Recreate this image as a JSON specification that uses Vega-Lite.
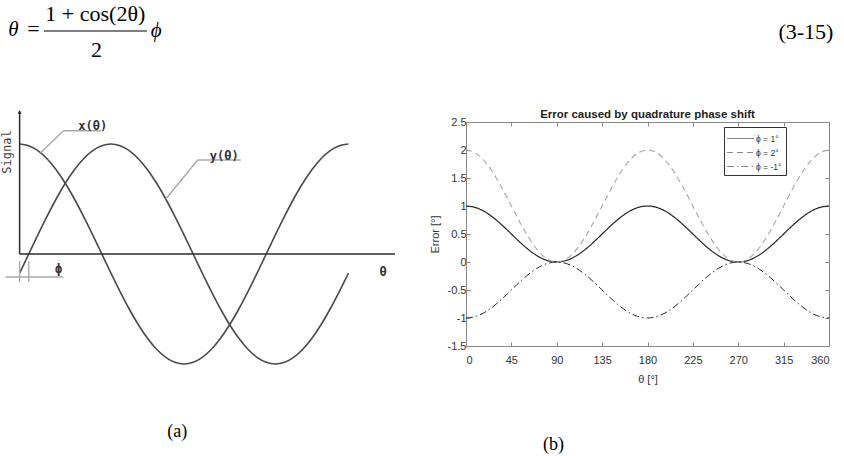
{
  "$schema": "https://vega.github.io/schema/vega-lite/v6.json",
  "padding": 0,
  "spacing": 0,
  "background": "white",
  "config": {"view": {"stroke": null}},
  "vconcat": [
    {
      "width": 844,
      "height": 108,
      "layer": [
        {
          "data": {"values": [
            {"x": 3.36, "y": 36, "s": "="},
            {"x": 10.7, "y": 21, "s": "1 + cos(2θ)"},
            {"x": 10.84, "y": 57, "s": "2"}
          ]},
          "mark": {"type": "text", "font": "Liberation Serif", "fontSize": 22, "baseline": "alphabetic", "align": "center", "color": "#000"},
          "encoding": {
            "x": {"field": "x", "type": "quantitative", "scale": {"domain": [0, 100], "nice": false}, "axis": null},
            "y": {"field": "y", "type": "quantitative", "scale": {"domain": [0, 108], "nice": false, "reverse": true}, "axis": null},
            "text": {"field": "s"}
          }
        },
        {
          "data": {"values": [
            {"x": 94.9, "y": 38.5, "s": "(3-15)"}
          ]},
          "mark": {"type": "text", "font": "Liberation Serif", "fontSize": 22, "baseline": "alphabetic", "align": "center", "color": "#000"},
          "encoding": {
            "x": {"field": "x", "type": "quantitative", "scale": {"domain": [0, 100], "nice": false}, "axis": null},
            "y": {"field": "y", "type": "quantitative", "scale": {"domain": [0, 108], "nice": false, "reverse": true}, "axis": null},
            "text": {"field": "s"}
          }
        },
        {
          "data": {"values": [
            {"x": 1.0, "y": 36, "s": "θ"},
            {"x": 17.9, "y": 37, "s": "ϕ"}
          ]},
          "mark": {"type": "text", "font": "Liberation Serif", "fontSize": 21, "fontStyle": "italic", "baseline": "alphabetic", "align": "center", "color": "#000"},
          "encoding": {
            "x": {"field": "x", "type": "quantitative", "scale": {"domain": [0, 100], "nice": false}, "axis": null},
            "y": {"field": "y", "type": "quantitative", "scale": {"domain": [0, 108], "nice": false, "reverse": true}, "axis": null},
            "text": {"field": "s"}
          }
        },
        {
          "data": {"values": [{"x": 4.62, "x2": 16.82, "y": 31}]},
          "mark": {"type": "rule", "color": "#000", "strokeWidth": 1},
          "encoding": {
            "x": {"field": "x", "type": "quantitative", "scale": {"domain": [0, 100], "nice": false}, "axis": null},
            "x2": {"field": "x2"},
            "y": {"field": "y", "type": "quantitative", "scale": {"domain": [0, 108], "nice": false, "reverse": true}, "axis": null}
          }
        }
      ]
    },
    {
      "spacing": 33,
      "hconcat": [
        {
          "width": 390,
          "height": 242,
          "layer": [
            {
              "data": {"name": "sig"},
              "mark": {"type": "line", "interpolate": "monotone", "color": "#4a4a4a", "strokeWidth": 1.6},
              "encoding": {
                "x": {"field": "t", "type": "quantitative", "scale": {"domain": [-16, 411], "nice": false, "zero": false}, "axis": null},
                "y": {"field": "x", "type": "quantitative", "scale": {"domain": [-1.0, 1.2], "nice": false, "zero": false}, "axis": null}
              }
            },
            {
              "data": {"name": "sig"},
              "mark": {"type": "line", "interpolate": "monotone", "color": "#4a4a4a", "strokeWidth": 1.6},
              "encoding": {
                "x": {"field": "t", "type": "quantitative", "scale": {"domain": [-16, 411], "nice": false, "zero": false}, "axis": null},
                "y": {"field": "y", "type": "quantitative", "scale": {"domain": [-1.0, 1.2], "nice": false, "zero": false}, "axis": null}
              }
            },
            {
              "data": {"name": "guides"},
              "mark": {"type": "rule"},
              "encoding": {
                "x": {"field": "t", "type": "quantitative", "scale": {"domain": [-16, 411], "nice": false, "zero": false}, "axis": null},
                "y": {"field": "s", "type": "quantitative", "scale": {"domain": [-1.0, 1.2], "nice": false, "zero": false}, "axis": null},
                "x2": {"field": "t2"},
                "y2": {"field": "s2"},
                "color": {"field": "k", "type": "nominal", "scale": {"domain": ["axis", "lead"], "range": ["#2a2a2a", "#a8a8a8"]}, "legend": null},
                "strokeWidth": {"field": "k", "type": "nominal", "scale": {"domain": ["axis", "lead"], "range": [1.5, 1]}, "legend": null}
              }
            },
            {
              "data": {"values": [{"t": 0, "s": 1.29}]},
              "mark": {"type": "point", "shape": "triangle-up", "filled": true, "size": 16, "color": "#2a2a2a", "opacity": 1},
              "encoding": {
                "x": {"field": "t", "type": "quantitative", "scale": {"domain": [-16, 411], "nice": false, "zero": false}, "axis": null},
                "y": {"field": "s", "type": "quantitative", "scale": {"domain": [-1.0, 1.2], "nice": false, "zero": false}, "axis": null}
              }
            },
            {
              "data": {"values": [{"t": -14.2, "s": 0.927, "label": "Signal"}]},
              "mark": {"type": "text", "font": "DejaVu Sans Mono", "fontSize": 12, "angle": 270, "align": "center", "baseline": "middle", "color": "#444"},
              "encoding": {
                "x": {"field": "t", "type": "quantitative", "scale": {"domain": [-16, 411], "nice": false, "zero": false}, "axis": null},
                "y": {"field": "s", "type": "quantitative", "scale": {"domain": [-1.0, 1.2], "nice": false, "zero": false}, "axis": null},
                "text": {"field": "label"}
              }
            },
            {
              "data": {"values": [
                {"t": 80, "s": 1.164, "label": "x(θ)"},
                {"t": 224, "s": 0.895, "label": "y(θ)"},
                {"t": 42.7, "s": -0.136, "label": "ϕ"},
                {"t": 398, "s": -0.164, "label": "θ"}
              ]},
              "mark": {"type": "text", "font": "DejaVu Sans Mono", "fontSize": 12, "fontWeight": "bold", "align": "center", "baseline": "middle", "color": "#333"},
              "encoding": {
                "x": {"field": "t", "type": "quantitative", "scale": {"domain": [-16, 411], "nice": false, "zero": false}, "axis": null},
                "y": {"field": "s", "type": "quantitative", "scale": {"domain": [-1.0, 1.2], "nice": false, "zero": false}, "axis": null},
                "text": {"field": "label"}
              }
            }
          ]
        },
        {
          "width": 363,
          "height": 224,
          "title": {"text": "Error caused by quadrature phase shift", "font": "Liberation Sans", "fontSize": 11.5, "fontWeight": "bold", "color": "#222", "offset": -4, "anchor": "middle", "frame": "group"},
          "data": {"name": "err"},
          "transform": [{"fold": ["p1", "p2", "m1"], "as": ["k", "v"]}],
          "layer": [
            {
              "mark": {"type": "line", "interpolate": "monotone"},
              "encoding": {
                "x": {"field": "t", "type": "quantitative", "scale": {"domain": [0, 360], "nice": false},
                  "axis": {"orient": "bottom", "values": [0, 45, 90, 135, 180, 225, 270, 315, 360], "title": "θ [°]", "titleFont": "Liberation Sans", "titleFontSize": 11, "titleFontWeight": "normal", "titleColor": "#333", "titlePadding": 8, "labelFont": "Liberation Sans", "labelFontSize": 11, "labelColor": "#333", "labelPadding": 12, "tickSize": -4, "tickColor": "#888", "domainColor": "#888", "grid": false}},
                "y": {"field": "v", "type": "quantitative", "scale": {"domain": [-1.5, 2.5], "nice": false, "zero": false},
                  "axis": {"orient": "left", "values": [-1.5, -1, -0.5, 0, 0.5, 1, 1.5, 2, 2.5], "labelExpr": "datum.value + ''", "title": "Error [°]", "titleFont": "Liberation Sans", "titleFontSize": 11, "titleFontWeight": "normal", "titleColor": "#333", "titlePadding": 7, "labelFont": "Liberation Sans", "labelFontSize": 11, "labelColor": "#333", "labelPadding": 4, "tickSize": -4, "tickColor": "#888", "domainColor": "#888", "grid": false}},
                "color": {"field": "k", "type": "nominal", "scale": {"domain": ["p1", "p2", "m1"], "range": ["#111111", "#707070", "#707070"]},
                  "legend": {"title": null, "orient": "none", "legendX": 719, "legendY": 127, "symbolType": "M-2,0H2", "symbolSize": 182, "symbolOffset": 5, "symbolStrokeWidth": 1.2, "labelFont": "Liberation Sans", "labelFontSize": 8.5, "labelColor": "#333", "labelOffset": 8, "strokeColor": "#333", "fillColor": "white", "padding": 4, "rowPadding": 2,
                    "labelExpr": "datum.label == 'p1' ? 'ϕ = 1°' : datum.label == 'p2' ? 'ϕ = 2°' : 'ϕ = -1°'"}},
                "strokeDash": {"field": "k", "type": "nominal", "scale": {"domain": ["p1", "p2", "m1"], "range": [[1, 0], [6, 4], [7, 3, 1.5, 3]]},
                  "legend": {"title": null, "orient": "none", "legendX": 719, "legendY": 127, "symbolType": "M-2,0H2", "symbolSize": 182, "symbolOffset": 5, "symbolStrokeWidth": 1.2, "labelFont": "Liberation Sans", "labelFontSize": 8.5, "labelColor": "#333", "labelOffset": 8, "strokeColor": "#333", "fillColor": "white", "padding": 4, "rowPadding": 2,
                    "labelExpr": "datum.label == 'p1' ? 'ϕ = 1°' : datum.label == 'p2' ? 'ϕ = 2°' : 'ϕ = -1°'"}},
                "strokeWidth": {"field": "k", "type": "nominal", "scale": {"domain": ["p1", "p2", "m1"], "range": [1.6, 1, 1]}, "legend": null}
              }
            },
            {
              "mark": {"type": "point", "opacity": 0},
              "encoding": {
                "x": {"field": "t", "type": "quantitative", "scale": {"domain": [0, 360], "nice": false},
                  "axis": {"orient": "top", "values": [0, 45, 90, 135, 180, 225, 270, 315, 360], "labels": false, "title": null, "tickSize": -4, "tickColor": "#888", "domainColor": "#888", "grid": false}},
                "y": {"field": "v", "type": "quantitative", "scale": {"domain": [-1.5, 2.5], "nice": false, "zero": false},
                  "axis": {"orient": "right", "values": [-1.5, -1, -0.5, 0, 0.5, 1, 1.5, 2, 2.5], "labels": false, "title": null, "tickSize": -4, "tickColor": "#888", "domainColor": "#888", "grid": false}}
              }
            }
          ],
          "resolve": {"axis": {"x": "independent", "y": "independent"}}
        }
      ]
    },
    {
      "width": 844,
      "height": 72,
      "data": {"values": [
        {"x": 20.4, "y": 48, "s": "(a)"},
        {"x": 65.0, "y": 60.5, "s": "(b)"}
      ]},
      "mark": {"type": "text", "font": "Liberation Serif", "fontSize": 18, "baseline": "middle", "align": "center", "color": "#000"},
      "encoding": {
        "x": {"field": "x", "type": "quantitative", "scale": {"domain": [0, 100], "nice": false}, "axis": null},
        "y": {"field": "y", "type": "quantitative", "scale": {"domain": [0, 72], "nice": false, "reverse": true}, "axis": null},
        "text": {"field": "s"}
      }
    }
  ],
  "datasets": {
    "sig": [
      {"t": 0, "x": 1, "y": -0.174},
      {"t": 10, "x": 0.985, "y": 0},
      {"t": 20, "x": 0.94, "y": 0.174},
      {"t": 30, "x": 0.866, "y": 0.342},
      {"t": 40, "x": 0.766, "y": 0.5},
      {"t": 50, "x": 0.643, "y": 0.643},
      {"t": 60, "x": 0.5, "y": 0.766},
      {"t": 70, "x": 0.342, "y": 0.866},
      {"t": 80, "x": 0.174, "y": 0.94},
      {"t": 90, "x": 0, "y": 0.985},
      {"t": 100, "x": -0.174, "y": 1},
      {"t": 110, "x": -0.342, "y": 0.985},
      {"t": 120, "x": -0.5, "y": 0.94},
      {"t": 130, "x": -0.643, "y": 0.866},
      {"t": 140, "x": -0.766, "y": 0.766},
      {"t": 150, "x": -0.866, "y": 0.643},
      {"t": 160, "x": -0.94, "y": 0.5},
      {"t": 170, "x": -0.985, "y": 0.342},
      {"t": 180, "x": -1, "y": 0.174},
      {"t": 190, "x": -0.985, "y": 0},
      {"t": 200, "x": -0.94, "y": -0.174},
      {"t": 210, "x": -0.866, "y": -0.342},
      {"t": 220, "x": -0.766, "y": -0.5},
      {"t": 230, "x": -0.643, "y": -0.643},
      {"t": 240, "x": -0.5, "y": -0.766},
      {"t": 250, "x": -0.342, "y": -0.866},
      {"t": 260, "x": -0.174, "y": -0.94},
      {"t": 270, "x": 0, "y": -0.985},
      {"t": 280, "x": 0.174, "y": -1},
      {"t": 290, "x": 0.342, "y": -0.985},
      {"t": 300, "x": 0.5, "y": -0.94},
      {"t": 310, "x": 0.643, "y": -0.866},
      {"t": 320, "x": 0.766, "y": -0.766},
      {"t": 330, "x": 0.866, "y": -0.643},
      {"t": 340, "x": 0.94, "y": -0.5},
      {"t": 350, "x": 0.985, "y": -0.342},
      {"t": 360, "x": 1, "y": -0.174}
    ],
    "guides": [
      {"t": 0, "s": 0, "t2": 0, "s2": 1.3, "k": "axis"},
      {"t": 0, "s": 0, "t2": 411, "s2": 0, "k": "axis"},
      {"t": 23, "s": 0.92, "t2": 48, "s2": 1.12, "k": "lead"},
      {"t": 48, "s": 1.12, "t2": 89, "s2": 1.12, "k": "lead"},
      {"t": 160, "s": 0.5, "t2": 195, "s2": 0.855, "k": "lead"},
      {"t": 195, "s": 0.855, "t2": 242, "s2": 0.855, "k": "lead"},
      {"t": 0, "s": -0.064, "t2": 0, "s2": -0.255, "k": "lead"},
      {"t": 10, "s": -0.064, "t2": 10, "s2": -0.255, "k": "lead"},
      {"t": -15.3, "s": -0.209, "t2": 48, "s2": -0.209, "k": "lead"}
    ],
    "err": [
      {"t": 0, "p1": 1, "p2": 2, "m1": -1},
      {"t": 10, "p1": 0.97, "p2": 1.94, "m1": -0.97},
      {"t": 20, "p1": 0.883, "p2": 1.766, "m1": -0.883},
      {"t": 30, "p1": 0.75, "p2": 1.5, "m1": -0.75},
      {"t": 40, "p1": 0.587, "p2": 1.174, "m1": -0.587},
      {"t": 50, "p1": 0.413, "p2": 0.826, "m1": -0.413},
      {"t": 60, "p1": 0.25, "p2": 0.5, "m1": -0.25},
      {"t": 70, "p1": 0.117, "p2": 0.234, "m1": -0.117},
      {"t": 80, "p1": 0.03, "p2": 0.06, "m1": -0.03},
      {"t": 90, "p1": 0, "p2": 0, "m1": 0},
      {"t": 100, "p1": 0.03, "p2": 0.06, "m1": -0.03},
      {"t": 110, "p1": 0.117, "p2": 0.234, "m1": -0.117},
      {"t": 120, "p1": 0.25, "p2": 0.5, "m1": -0.25},
      {"t": 130, "p1": 0.413, "p2": 0.826, "m1": -0.413},
      {"t": 140, "p1": 0.587, "p2": 1.174, "m1": -0.587},
      {"t": 150, "p1": 0.75, "p2": 1.5, "m1": -0.75},
      {"t": 160, "p1": 0.883, "p2": 1.766, "m1": -0.883},
      {"t": 170, "p1": 0.97, "p2": 1.94, "m1": -0.97},
      {"t": 180, "p1": 1, "p2": 2, "m1": -1},
      {"t": 190, "p1": 0.97, "p2": 1.94, "m1": -0.97},
      {"t": 200, "p1": 0.883, "p2": 1.766, "m1": -0.883},
      {"t": 210, "p1": 0.75, "p2": 1.5, "m1": -0.75},
      {"t": 220, "p1": 0.587, "p2": 1.174, "m1": -0.587},
      {"t": 230, "p1": 0.413, "p2": 0.826, "m1": -0.413},
      {"t": 240, "p1": 0.25, "p2": 0.5, "m1": -0.25},
      {"t": 250, "p1": 0.117, "p2": 0.234, "m1": -0.117},
      {"t": 260, "p1": 0.03, "p2": 0.06, "m1": -0.03},
      {"t": 270, "p1": 0, "p2": 0, "m1": 0},
      {"t": 280, "p1": 0.03, "p2": 0.06, "m1": -0.03},
      {"t": 290, "p1": 0.117, "p2": 0.234, "m1": -0.117},
      {"t": 300, "p1": 0.25, "p2": 0.5, "m1": -0.25},
      {"t": 310, "p1": 0.413, "p2": 0.826, "m1": -0.413},
      {"t": 320, "p1": 0.587, "p2": 1.174, "m1": -0.587},
      {"t": 330, "p1": 0.75, "p2": 1.5, "m1": -0.75},
      {"t": 340, "p1": 0.883, "p2": 1.766, "m1": -0.883},
      {"t": 350, "p1": 0.97, "p2": 1.94, "m1": -0.97},
      {"t": 360, "p1": 1, "p2": 2, "m1": -1}
    ]
  }
}
